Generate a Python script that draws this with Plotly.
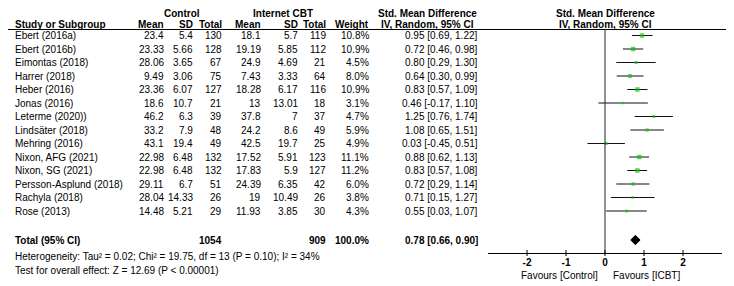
import plotly.graph_objects as go

# ---------------- data ----------------
studies = ["Ebert (2016a)", "Ebert (2016b)", "Eimontas (2018)", "Harrer (2018)",
           "Heber (2016)", "Jonas (2016)", "Leterme (2020))", "Lindsäter (2018)",
           "Mehring (2016)", "Nixon, AFG (2021)", "Nixon, SG (2021)",
           "Persson-Asplund (2018)", "Rachyla (2018)", "Rose (2013)"]
ctrl_mean = [23.4, 23.33, 28.06, 9.49, 23.36, 18.6, 46.2, 33.2, 43.1, 22.98, 22.98, 29.11, 28.04, 14.48]
ctrl_sd = [5.4, 5.66, 3.65, 3.06, 6.07, 10.7, 6.3, 7.9, 19.4, 6.48, 6.48, 6.7, 14.33, 5.21]
ctrl_n = [130, 128, 67, 75, 127, 21, 39, 48, 49, 132, 132, 51, 26, 29]
icbt_mean = [18.1, 19.19, 24.9, 7.43, 18.28, 13, 37.8, 24.2, 42.5, 17.52, 17.83, 24.39, 19, 11.93]
icbt_sd = [5.7, 5.85, 4.69, 3.33, 6.17, 13.01, 7, 8.6, 19.7, 5.91, 5.9, 6.35, 10.49, 3.85]
icbt_n = [119, 112, 21, 64, 116, 18, 37, 49, 25, 123, 127, 42, 26, 30]
weight = [10.8, 10.9, 4.5, 8.0, 10.9, 3.1, 4.7, 5.9, 4.9, 11.1, 11.2, 6.0, 3.8, 4.3]
smd = [0.95, 0.72, 0.80, 0.64, 0.83, 0.46, 1.25, 1.08, 0.03, 0.88, 0.83, 0.72, 0.71, 0.55]
ci_lo = [0.69, 0.46, 0.29, 0.30, 0.57, -0.17, 0.76, 0.65, -0.45, 0.62, 0.57, 0.29, 0.15, 0.03]
ci_hi = [1.22, 0.98, 1.30, 0.99, 1.09, 1.10, 1.74, 1.51, 0.51, 1.13, 1.08, 1.14, 1.27, 1.07]

total_ctrl = 1054
total_icbt = 909
total_weight = 100.0
total_smd = 0.78
total_lo = 0.66
total_hi = 0.90

heterogeneity = "Heterogeneity: Tau² = 0.02; Chi² = 19.75, df = 13 (P = 0.10); I² = 34%"
overall = "Test for overall effect: Z = 12.69 (P < 0.00001)"
axis_ticks = [-2, -1, 0, 1, 2]
favours_left = "Favours [Control]"
favours_right = "Favours [ICBT]"

# ---------------- layout helpers ----------------
OFF = 8                      # page body margin of the browser
WIN_W, WIN_H = 734, 286
W, H = WIN_W - OFF, WIN_H - OFF
ROW0, STEP = 35.5, 13.5
FONT = "Liberation Sans, Arial, Helvetica, sans-serif"
GREEN = "#17bf17"


def py(p):
    """window pixel row -> y coordinate (row index units)"""
    return (p - ROW0) / STEP


def px(p):
    """window pixel column -> paper x"""
    return (p - OFF) / W


y_total = py(240)
y_het = py(256.5)
y_test = py(270.5)
y_head1 = py(13.2)
y_head2 = py(24)
y_line = py(29.5)
axis_pix = 253

fig = go.Figure()

# CI lines
xs, ys = [], []
for i in range(len(studies)):
    xs += [ci_lo[i], ci_hi[i], None]
    ys += [i, i, None]
fig.add_trace(go.Scatter(x=xs, y=ys, mode="lines",
                         line=dict(color="#111111", width=1),
                         hoverinfo="skip", showlegend=False))
# boxes
fig.add_trace(go.Scatter(x=smd, y=list(range(len(studies))), mode="markers",
                         marker=dict(symbol="square", color=GREEN,
                                     size=[1.35 * w ** 0.5 for w in weight],
                                     line=dict(width=0)),
                         showlegend=False))
# diamond
hh = 4.7 / STEP
fig.add_trace(go.Scatter(x=[total_lo, total_smd, total_hi, total_smd, total_lo],
                         y=[y_total, y_total - hh, y_total, y_total + hh, y_total],
                         mode="lines", fill="toself", fillcolor="black",
                         line=dict(color="black", width=1), showlegend=False))

ann = []


def txt(x, y, s, anchor="left", bold=False):
    ann.append(dict(x=px(x), y=y, xref="paper", yref="y", text=(f"<b>{s}</b>" if bold else s),
                    showarrow=False, xanchor=anchor, yanchor="middle",
                    font=dict(family=FONT, size=10, color="black")))


# column positions (right edges in window pixels)
X_STUDY = 13
X_CM, X_CSD, X_CN = 166, 195, 224
X_IM, X_ISD, X_IN = 263, 300, 328
X_W, X_CI = 371, 480

# headers
txt(182, y_head1, "Control", "center", True)
txt(283, y_head1, "Internet CBT", "center", True)
txt(428, y_head1, "Std. Mean Difference", "center", True)
txt(X_STUDY, y_head2, "Study or Subgroup", "left", True)
txt(X_CM, y_head2, "Mean", "right", True)
txt(X_CSD, y_head2, "SD", "right", True)
txt(X_CN, y_head2, "Total", "right", True)
txt(X_IM, y_head2, "Mean", "right", True)
txt(X_ISD, y_head2, "SD", "right", True)
txt(X_IN, y_head2, "Total", "right", True)
txt(X_W, y_head2, "Weight", "right", True)
txt(428, y_head2, "IV, Random, 95% CI", "center", True)
txt(605, y_head1, "Std. Mean Difference", "center", True)
txt(605, y_head2, "IV, Random, 95% CI", "center", True)

for i, s in enumerate(studies):
    txt(X_STUDY, i, s)
    txt(X_CM, i, f"{ctrl_mean[i]:g}", "right")
    txt(X_CSD, i, f"{ctrl_sd[i]:g}", "right")
    txt(X_CN, i, f"{ctrl_n[i]}", "right")
    txt(X_IM, i, f"{icbt_mean[i]:g}", "right")
    txt(X_ISD, i, f"{icbt_sd[i]:g}", "right")
    txt(X_IN, i, f"{icbt_n[i]}", "right")
    txt(X_W, i, f"{weight[i]:.1f}%", "right")
    txt(X_CI, i, f"{smd[i]:.2f} [{ci_lo[i]:.2f}, {ci_hi[i]:.2f}]", "right")

txt(X_STUDY, y_total, "Total (95% CI)", "left", True)
txt(X_CN, y_total, f"{total_ctrl}", "right", True)
txt(X_IN, y_total, f"{total_icbt}", "right", True)
txt(X_W, y_total, f"{total_weight:.1f}%", "right", True)
txt(X_CI, y_total, f"{total_smd:.2f} [{total_lo:.2f}, {total_hi:.2f}]", "right", True)
txt(X_STUDY, y_het, heterogeneity)
txt(X_STUDY, y_test, overall)
txt(600, py(275), favours_left, "right")
txt(611, py(275), favours_right, "left")

shapes = [
    dict(type="line", xref="paper", yref="y", x0=px(3), x1=px(732), y0=y_line, y1=y_line,
         line=dict(color="black", width=1)),
    dict(type="line", xref="x", yref="y", x0=0, x1=0, y0=y_line, y1=py(axis_pix),
         line=dict(color="#222222", width=1)),
]
for t in axis_ticks:
    shapes.append(dict(type="line", xref="x", yref="y", x0=t, x1=t,
                       y0=py(axis_pix - 3), y1=py(axis_pix + 3),
                       line=dict(color="black", width=1)))

fig.update_layout(
    width=W, height=H, margin=dict(l=0, r=0, t=0, b=0),
    paper_bgcolor="white", plot_bgcolor="white",
    annotations=ann, shapes=shapes,
    xaxis=dict(domain=[px(488), px(722)], range=[-3, 3], anchor="free",
               position=1 - (axis_pix - OFF) / H, showline=True, linecolor="black", linewidth=1,
               ticks="", tickvals=axis_ticks, ticktext=[str(t) for t in axis_ticks],
               tickfont=dict(family=FONT, size=10, color="black", weight="bold"),
               showgrid=False, zeroline=False, fixedrange=True),
    yaxis=dict(domain=[0, 1], range=[py(OFF + H), py(OFF)], visible=False, showgrid=False,
               zeroline=False, fixedrange=True),
    showlegend=False,
)

fig.write_html("out.html")
